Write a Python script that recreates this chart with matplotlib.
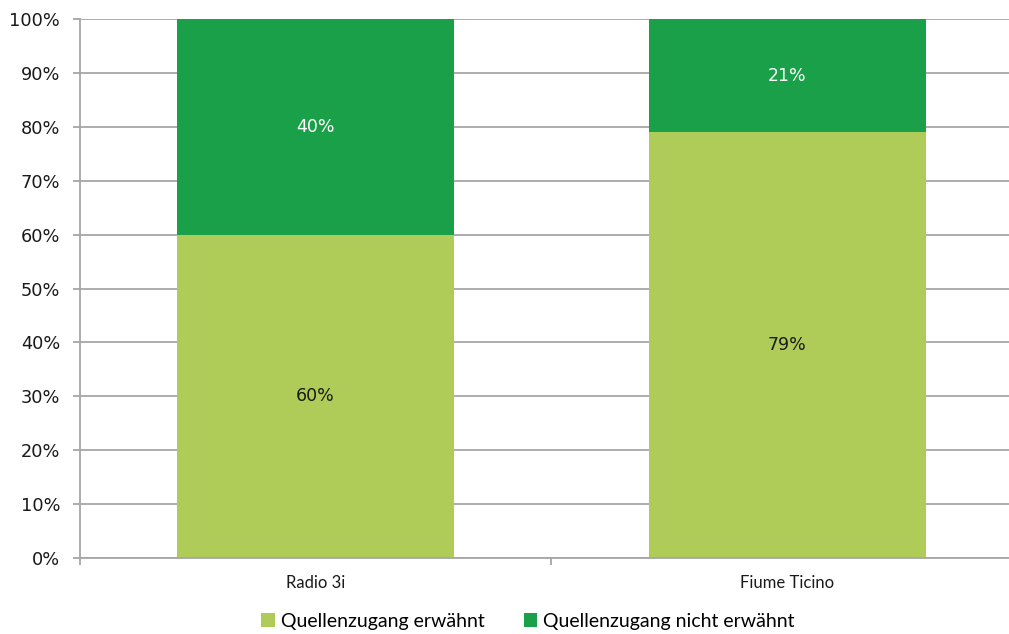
import matplotlib
matplotlib.use("Agg")
import matplotlib.pyplot as plt
from matplotlib.patches import Patch

categories = ["Radio 3i", "Fiume Ticino"]
erwaehnt = [60, 79]
nicht_erwaehnt = [40, 21]
series_names = ["Quellenzugang erwähnt", "Quellenzugang nicht erwähnt"]
yticks = list(range(0, 101, 10))

c_light = "#AFCB58"
c_dark = "#1AA049"
grid_c = "#A6A6A6"

fig = plt.figure(figsize=(10.09, 6.34), dpi=100)
ax = fig.add_axes([79.5/1009, 1-558/634, 1-79.5/1009, (558-19)/634])

x = list(range(len(categories)))
w = 0.587
ax.bar(x, erwaehnt, width=w, color=c_light, zorder=2)
ax.bar(x, nicht_erwaehnt, width=w, bottom=erwaehnt, color=c_dark, zorder=2)

for i in x:
    ax.text(i, erwaehnt[i]/2, f"{erwaehnt[i]}%", ha="center", va="center",
            fontsize=12.5, color="#1a1a1a", family="DejaVu Sans", zorder=3)
    ax.text(i, erwaehnt[i] + nicht_erwaehnt[i]/2, f"{nicht_erwaehnt[i]}%", ha="center",
            va="center", fontsize=12.5, color="white", family="DejaVu Sans", zorder=3)

ax.set_yticks(yticks)
ax.set_yticklabels([f"{t}%" for t in yticks], fontsize=12.8, family="DejaVu Sans", color="#1a1a1a")
ax.yaxis.grid(True, color=grid_c, linewidth=1.3, zorder=0)
ax.set_axisbelow(True)

ax.set_xticks([-0.5, 0.5, 1.5])
ax.set_xticklabels([])
ax.set_xticks(x, minor=True)
ax.set_xticklabels(categories, minor=True, fontsize=12, family="Lato", color="#1a1a1a")
ax.tick_params(axis="x", which="minor", length=0, pad=12)
ax.tick_params(axis="x", which="major", length=5, color=grid_c, width=1.3)
ax.tick_params(axis="y", length=5, color=grid_c, width=1.3, pad=9)

ax.set_xlim(-0.5, (1009-315)/472)
ax.set_ylim(0, 100)

for s in ["top", "right"]:
    ax.spines[s].set_visible(False)
for s in ["left", "bottom"]:
    ax.spines[s].set_color(grid_c)
    ax.spines[s].set_linewidth(1.3)

handles = [Patch(facecolor=c_light, edgecolor="none"), Patch(facecolor=c_dark, edgecolor="none")]
fig.legend(handles, series_names, loc="center", bbox_to_anchor=(528/1009, 1-621/634),
           ncol=2, frameon=False, prop={"family": "Lato", "size": 14},
           handlelength=0.7, handleheight=0.7, handletextpad=0.3, columnspacing=2.0)

fig.savefig("out.png", dpi=100)
